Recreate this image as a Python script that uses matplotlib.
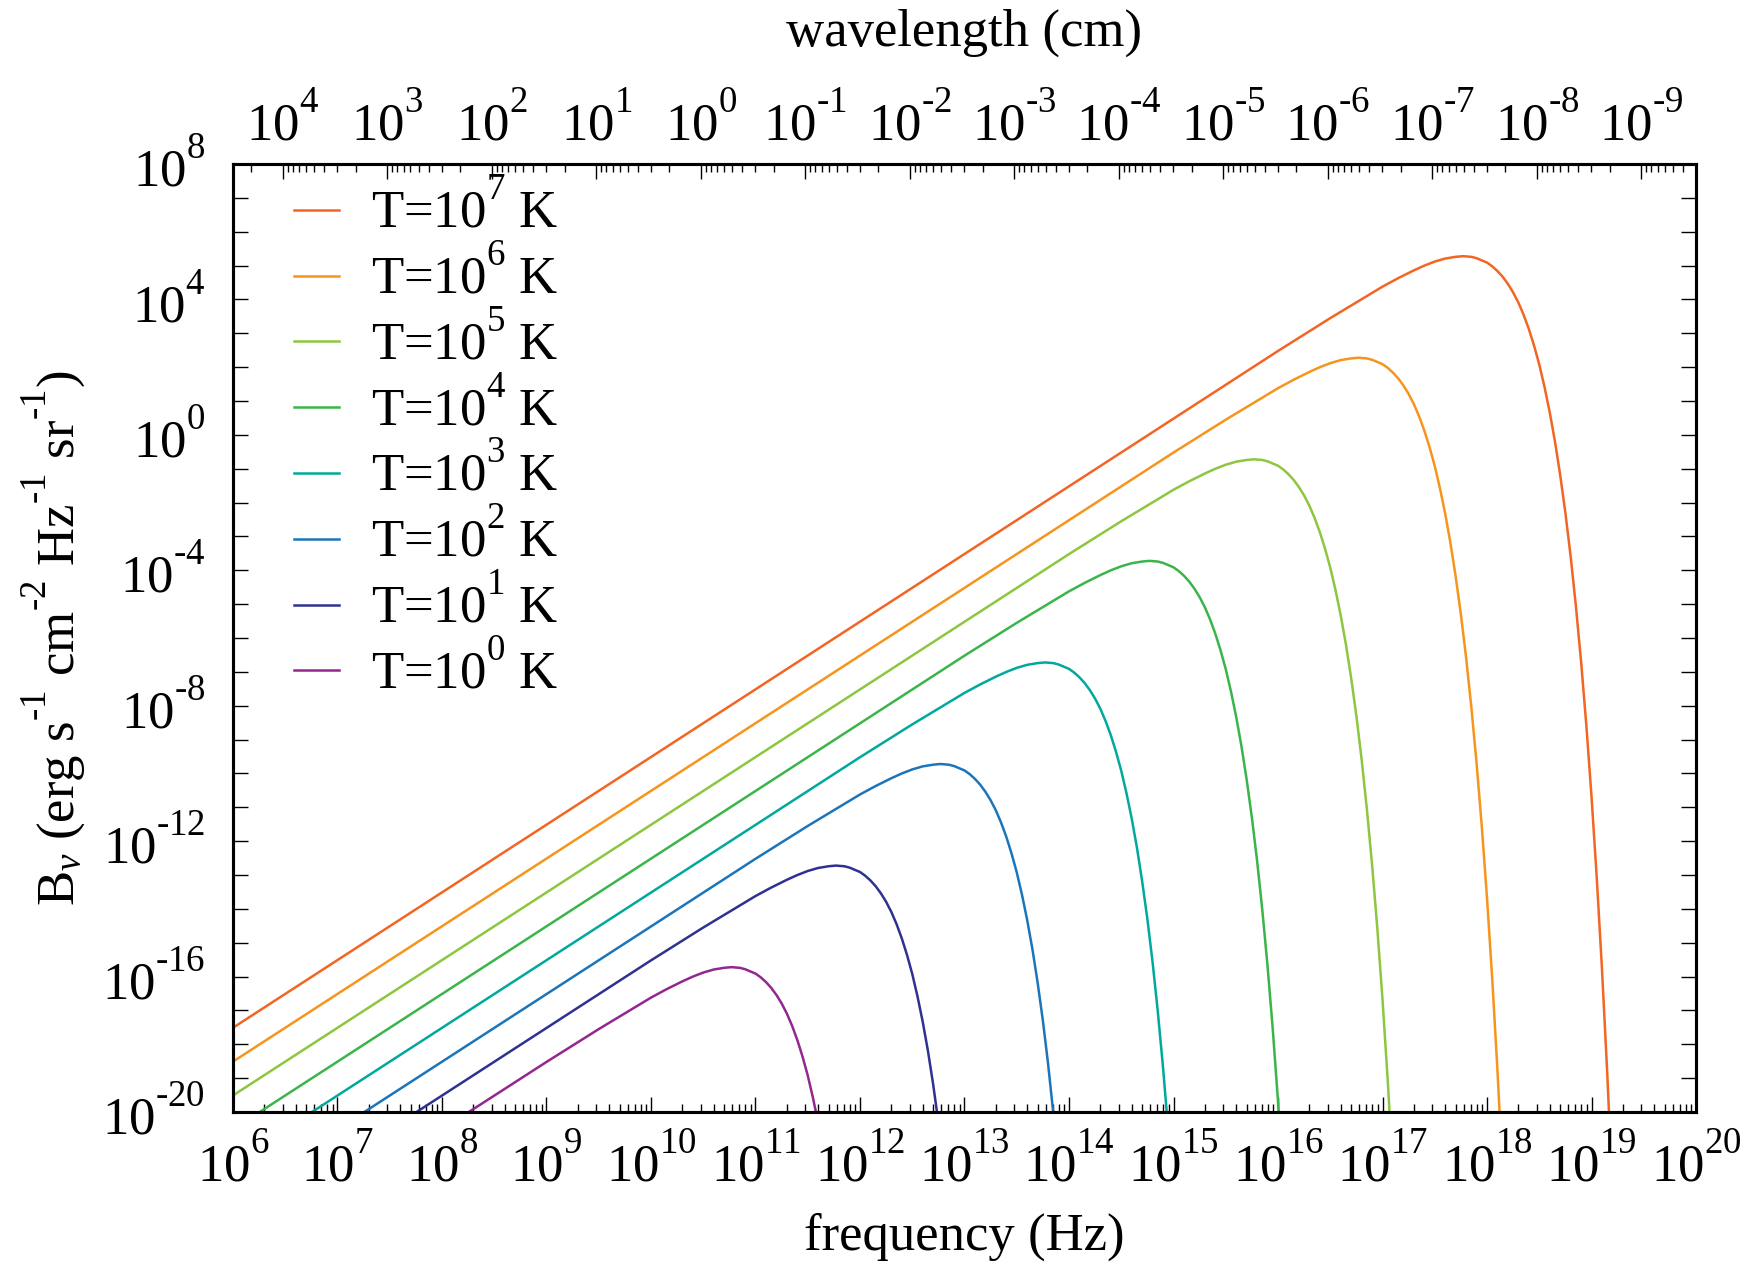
import numpy as np
import matplotlib
matplotlib.use('Agg')
import matplotlib.pyplot as plt
import matplotlib._mathtext as mtext
from matplotlib.ticker import FixedLocator, FuncFormatter, NullFormatter

plt.rcParams['font.family'] = ['Liberation Serif', 'DejaVu Serif']
plt.rcParams['mathtext.fontset'] = 'custom'
plt.rcParams['mathtext.rm'] = 'Liberation Serif'
plt.rcParams['mathtext.it'] = 'Liberation Serif:italic'
plt.rcParams['mathtext.bf'] = 'Liberation Serif:bold'
# gnuplot-like exponents sit higher than mathtext's default
mtext.FontConstantsBase.sup1 = 1.15

# log10(frequency / Hz) and log10(B_nu)
lognu_T7 = [6, 16, 16.5, 17, 17.15, 17.3, 17.4, 17.5, 17.6, 17.7, 17.77, 17.85, 17.9, 18.0, 18.05, 18.1, 18.15, 18.2, 18.25,
            18.3, 18.35, 18.4, 18.45, 18.5, 18.55, 18.6, 18.65, 18.7, 18.75, 18.8, 18.85, 18.9, 18.95, 19.0, 19.05, 19.1, 19.15, 19.2]
logB_T7 = [-17.51, 2.48, 3.45, 4.38, 4.63, 4.86, 5.00, 5.12, 5.21, 5.26, 5.28, 5.26, 5.22, 5.09, 4.98, 4.84, 4.67, 4.46, 4.21,
           3.91, 3.55, 3.13, 2.64, 2.08, 1.42, 0.67, -0.19, -1.18, -2.30, -3.58, -5.04, -6.69, -8.56, -10.68, -13.07, -15.77, -18.82, -22.27]

lognu_T6 = [6, 15, 15.5, 16, 16.15, 16.3, 16.4, 16.5, 16.6, 16.7, 16.77, 16.85, 16.9, 17.0, 17.05, 17.1, 17.15, 17.2, 17.25,
            17.3, 17.35, 17.4, 17.45, 17.5, 17.55, 17.6, 17.65, 17.7, 17.75, 17.8, 17.85, 17.9, 17.95, 18.0, 18.05, 18.1, 18.15]
logB_T6 = [-18.51, -0.52, 0.45, 1.38, 1.63, 1.86, 2.00, 2.12, 2.21, 2.26, 2.28, 2.26, 2.22, 2.09, 1.98, 1.84, 1.67, 1.46, 1.21,
           0.91, 0.55, 0.13, -0.36, -0.92, -1.58, -2.33, -3.19, -4.18, -5.30, -6.58, -8.04, -9.69, -11.56, -13.68, -16.07, -18.77, -21.82]

lognu_T5 = [6, 14, 14.5, 15, 15.15, 15.3, 15.4, 15.5, 15.6, 15.7, 15.77, 15.85, 15.9, 16.0, 16.05, 16.1, 16.15, 16.2, 16.25,
            16.3, 16.35, 16.4, 16.45, 16.5, 16.55, 16.6, 16.65, 16.7, 16.75, 16.8, 16.85, 16.9, 16.95, 17.0, 17.05, 17.1]
logB_T5 = [-19.51, -3.52, -2.55, -1.62, -1.37, -1.14, -1.00, -0.88, -0.79, -0.74, -0.72, -0.74, -0.78, -0.91, -1.02, -1.16, -1.33, -1.54, -1.79,
           -2.09, -2.45, -2.87, -3.36, -3.92, -4.58, -5.33, -6.19, -7.18, -8.30, -9.58, -11.04, -12.69, -14.56, -16.68, -19.07, -21.77]

lognu_T4 = [6, 13, 13.5, 14, 14.15, 14.3, 14.4, 14.5, 14.6, 14.7, 14.77, 14.85, 14.9, 15.0, 15.05, 15.1, 15.15, 15.2, 15.25,
            15.3, 15.35, 15.4, 15.45, 15.5, 15.55, 15.6, 15.65, 15.7, 15.75, 15.8, 15.85, 15.9, 15.95, 16.0, 16.05]
logB_T4 = [-20.51, -6.52, -5.55, -4.62, -4.37, -4.14, -4.00, -3.88, -3.79, -3.74, -3.72, -3.74, -3.78, -3.91, -4.02, -4.16, -4.33, -4.54, -4.79,
           -5.09, -5.45, -5.87, -6.36, -6.92, -7.58, -8.33, -9.19, -10.18, -11.30, -12.58, -14.04, -15.69, -17.56, -19.68, -22.07]

lognu_T3 = [6, 12, 12.5, 13, 13.15, 13.3, 13.4, 13.5, 13.6, 13.7, 13.77, 13.85, 13.9, 14.0, 14.05, 14.1, 14.15, 14.2, 14.25,
            14.3, 14.35, 14.4, 14.45, 14.5, 14.55, 14.6, 14.65, 14.7, 14.75, 14.8, 14.85, 14.9, 14.95]
logB_T3 = [-21.51, -9.52, -8.55, -7.62, -7.37, -7.14, -7.00, -6.88, -6.79, -6.74, -6.72, -6.74, -6.78, -6.91, -7.02, -7.16, -7.33, -7.54, -7.79,
           -8.09, -8.45, -8.87, -9.36, -9.92, -10.58, -11.33, -12.19, -13.18, -14.30, -15.58, -17.04, -18.69, -20.56]

lognu_T2 = [6, 11, 11.5, 12, 12.15, 12.3, 12.4, 12.5, 12.6, 12.7, 12.77, 12.85, 12.9, 13.0, 13.05, 13.1, 13.15, 13.2, 13.25,
            13.3, 13.35, 13.4, 13.45, 13.5, 13.55, 13.6, 13.65, 13.7, 13.75, 13.8, 13.85]
logB_T2 = [-22.51, -12.52, -11.55, -10.62, -10.37, -10.14, -10.00, -9.88, -9.79, -9.74, -9.72, -9.74, -9.78, -9.91, -10.02, -10.16, -10.33, -10.54, -10.79,
           -11.09, -11.45, -11.87, -12.36, -12.92, -13.58, -14.33, -15.19, -16.18, -17.30, -18.58, -20.04]

lognu_T1 = [7, 10, 10.5, 11, 11.15, 11.3, 11.4, 11.5, 11.6, 11.7, 11.77, 11.85, 11.9, 12.0, 12.05, 12.1, 12.15, 12.2, 12.25,
            12.3, 12.35, 12.4, 12.45, 12.5, 12.55, 12.6, 12.65, 12.7, 12.75]
logB_T1 = [-21.51, -15.52, -14.55, -13.62, -13.37, -13.14, -13.00, -12.88, -12.79, -12.74, -12.72, -12.74, -12.78, -12.91, -13.02, -13.16, -13.33, -13.54, -13.79,
           -14.09, -14.45, -14.87, -15.36, -15.92, -16.58, -17.33, -18.19, -19.18, -20.30]

lognu_T0 = [8, 9, 9.5, 10, 10.15, 10.3, 10.4, 10.5, 10.6, 10.7, 10.77, 10.85, 10.9, 11.0, 11.05, 11.1, 11.15, 11.2, 11.25,
            11.3, 11.35, 11.4, 11.45, 11.5, 11.55, 11.6]
logB_T0 = [-20.51, -18.52, -17.55, -16.62, -16.37, -16.14, -16.00, -15.88, -15.79, -15.74, -15.72, -15.74, -15.78, -15.91, -16.02, -16.16, -16.33, -16.54, -16.79,
           -17.09, -17.45, -17.87, -18.36, -18.92, -19.58, -20.33]

temp_exp = [7, 6, 5, 4, 3, 2, 1, 0]
colors = ['#f26522', '#f7941d', '#8dc63f', '#39b54a', '#00a99d', '#1b75bb', '#2e3192', '#92278f']
curves = [(lognu_T7, logB_T7), (lognu_T6, logB_T6), (lognu_T5, logB_T5), (lognu_T4, logB_T4),
          (lognu_T3, logB_T3), (lognu_T2, logB_T2), (lognu_T1, logB_T1), (lognu_T0, logB_T0)]

# wavelength ticks on the top axis (cm)
lam_exp = [4, 3, 2, 1, 0, -1, -2, -3, -4, -5, -6, -7, -8, -9]
c_light = 2.998e10

HY = '\u2010'


def pow_label(e):
    return r'$10^{%s}$' % str(e).replace('-', HY)


fig = plt.figure(figsize=(17.61, 12.66), dpi=100)
ax = fig.add_axes([0.1323, 0.1216, 0.8308, 0.7488])

for (x, y), c, n in zip(curves, colors, temp_exp):
    ax.plot(10.0**np.array(x), 10.0**np.array(y), color=c, lw=1.8,
            label='T=10$^{%d}$ K' % n)

ax.set_xscale('log')
ax.set_yscale('log')
ax.set_xlim(1e6, 1e20)
ax.set_ylim(1e-20, 1e8)

fs = 38
ax.xaxis.set_major_locator(FixedLocator(10.0**np.arange(6, 21)))
ax.xaxis.set_major_formatter(FuncFormatter(lambda v, p: pow_label(int(round(np.log10(v))))))
ax.xaxis.set_minor_locator(FixedLocator([m * 10.0**k for k in range(6, 20) for m in range(2, 10)]))
ax.xaxis.set_minor_formatter(NullFormatter())

ax.yaxis.set_major_locator(FixedLocator(10.0**np.arange(-20, 9)))
ax.yaxis.set_major_formatter(FuncFormatter(
    lambda v, p: pow_label(int(round(np.log10(v)))) if int(round(np.log10(v))) % 4 == 0 else ''))
ax.yaxis.set_minor_locator(FixedLocator([]))

ax.tick_params(axis='x', which='major', direction='in', length=11, width=1.0, labelsize=fs, pad=17, top=False)
ax.tick_params(axis='x', which='minor', direction='in', length=6, width=1.0, top=False)
ax.tick_params(axis='y', which='major', direction='in', length=11, width=1.0, labelsize=fs, pad=20, right=True)

for s in ax.spines.values():
    s.set_linewidth(2.2)

ax2 = ax.twiny()
ax2.set_xscale('log')
ax2.set_xlim(ax.get_xlim())
ax2.xaxis.set_major_locator(FixedLocator([c_light / 10.0**e for e in lam_exp]))
ax2.xaxis.set_major_formatter(FuncFormatter(lambda v, p: pow_label(int(round(np.log10(c_light / v))))))
ax2.xaxis.set_minor_locator(FixedLocator([c_light / (m * 10.0**k) for k in range(-10, 5) for m in range(2, 10)
                                          if 1e6 <= c_light / (m * 10.0**k) <= 1e20]))
ax2.xaxis.set_minor_formatter(NullFormatter())
ax2.tick_params(axis='x', which='major', direction='in', length=11, width=1.0, labelsize=fs, pad=9)
ax2.tick_params(axis='x', which='minor', direction='in', length=6, width=1.0)
for s in ax2.spines.values():
    s.set_linewidth(2.2)

ax.set_xlabel('frequency (Hz)', fontsize=fs, labelpad=14)
ax2.set_xlabel('wavelength (cm)', fontsize=fs, labelpad=35)
ax.set_ylabel('B$_{\\nu}$ (erg s$^{%s1}$ cm$^{%s2}$ Hz$^{%s1}$ sr$^{%s1}$)' % (HY, HY, HY, HY),
              fontsize=fs, labelpad=10)

ax.legend(loc='upper left', bbox_to_anchor=(0.0417, 0.981), frameon=False, fontsize=fs,
          handlelength=0.85, handletextpad=0.6, labelspacing=0.165, borderpad=0, borderaxespad=0)

fig.savefig('out.png', dpi=100)
